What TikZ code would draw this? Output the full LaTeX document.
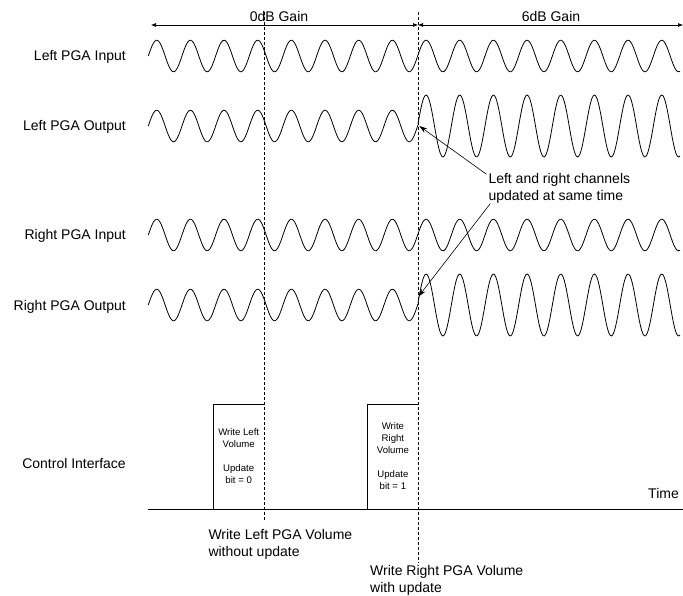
\documentclass[tikz,border=0pt]{standalone}
\usepackage{fontspec}
\setmainfont{Liberation Sans}
\usetikzlibrary{arrows.meta, positioning, calc}

\begin{document}
\begin{tikzpicture}[x=1pt, y=-1pt,
    declare function={ph(\t)=sin(((\t-148.3)/33.67)*360);},
    lbl/.style={font=\fontsize{14}{17}\selectfont, inner sep=0pt},
    chan/.style={lbl, anchor=base east},
    wave/.style={line width=0.8pt, line join=round},
    marker/.style={dash pattern=on 3pt off 2pt, line width=0.6pt},
    gain/.style={{Latex[length=5pt,width=4pt]}-{Latex[length=5pt,width=4pt]}, line width=0.6pt},
    regbox/.style={font=\fontsize{9.6}{12}\selectfont, align=center, inner sep=0pt},
    pointer/.style={-{Stealth[length=8pt,width=5pt]}, line width=0.6pt}
  ]
  \path[use as bounding box, fill=white] (0,0) rectangle (683,596);

  % channel names
  \node[chan] (lin)  at (126,61)  {Left PGA Input};
  \node[chan] (lout) at (126,131) {Left PGA Output};
  \node[chan] (rin)  at (126,240) {Right PGA Input};
  \node[chan] (rout) at (126,310) {Right PGA Output};
  \node[chan] (ctl)  at (126,468) {Control Interface};

  % gain ranges
  \coordinate (g0) at (151,25);
  \coordinate (g1) at (418,25);
  \coordinate (g2) at (683,25);
  \draw[gain] (g0) -- (g1);
  \draw[gain] (g1) -- (g2);
  \node[lbl, anchor=base] (g0txt) at (279,22) {0dB Gain};
  \node[lbl, anchor=base] (g1txt) at (551,22) {6dB Gain};

  % update instants
  \coordinate (t1) at (264,12);
  \coordinate (t1b) at (264,520);
  \coordinate (t2) at (418,12);
  \coordinate (t2b) at (418,563);
  \draw[marker] (t1) -- (t1b);
  \draw[marker] (t2) -- (t2b);

  % signals
  \foreach \c in {56,235}
    \draw[wave] plot[domain=148.3:680, samples=400] (\x, {\c-15.8*ph(\x)});
  \foreach \c in {126,305} {
    \draw[wave] plot[domain=148.3:418, samples=200] (\x, {\c-15.8*ph(\x)});
    \draw[wave] plot[domain=418:680, samples=200] (\x, {\c-31*ph(\x)});
  }

  % control interface
  \coordinate (ts) at (148,509);
  \coordinate (te) at (683,509);
  \draw[line width=0.6pt] (ts) -- (te);
  \node[lbl, anchor=base east] (time) at (679,498) {Time};
  \draw[line width=0.6pt] (213.3,509) |- (264,404.3);
  \draw[line width=0.6pt] (367.7,509) |- (418,404.3);
  \node[regbox] (wl) at (238.7,456.5) {Write Left\\Volume\\[12pt]Update\\bit = 0};
  \node[regbox] (wr) at (392.9,456.5) {Write\\Right\\Volume\\[12pt]Update\\bit = 1};

  \node[lbl, anchor=base west, align=left] (wlnote) at (208.3,556)
    {Write Left PGA Volume\\without update};
  \node[lbl, anchor=base west, align=left] (wrnote) at (370,592)
    {Write Right PGA Volume\\with update};

  % both channels switch together
  \node[lbl, anchor=base west, align=left] (note) at (488.3,200.5)
    {Left and right channels\\updated at same time};
  \coordinate (lhit) at (419.3,126);
  \coordinate (rhit) at (418.5,296.5);
  \draw[pointer] ($(note.north west)+(-2,1)$) -- (lhit);
  \draw[pointer] ($(note.south west)+(2,0)$) -- (rhit);
\end{tikzpicture}
\end{document}
